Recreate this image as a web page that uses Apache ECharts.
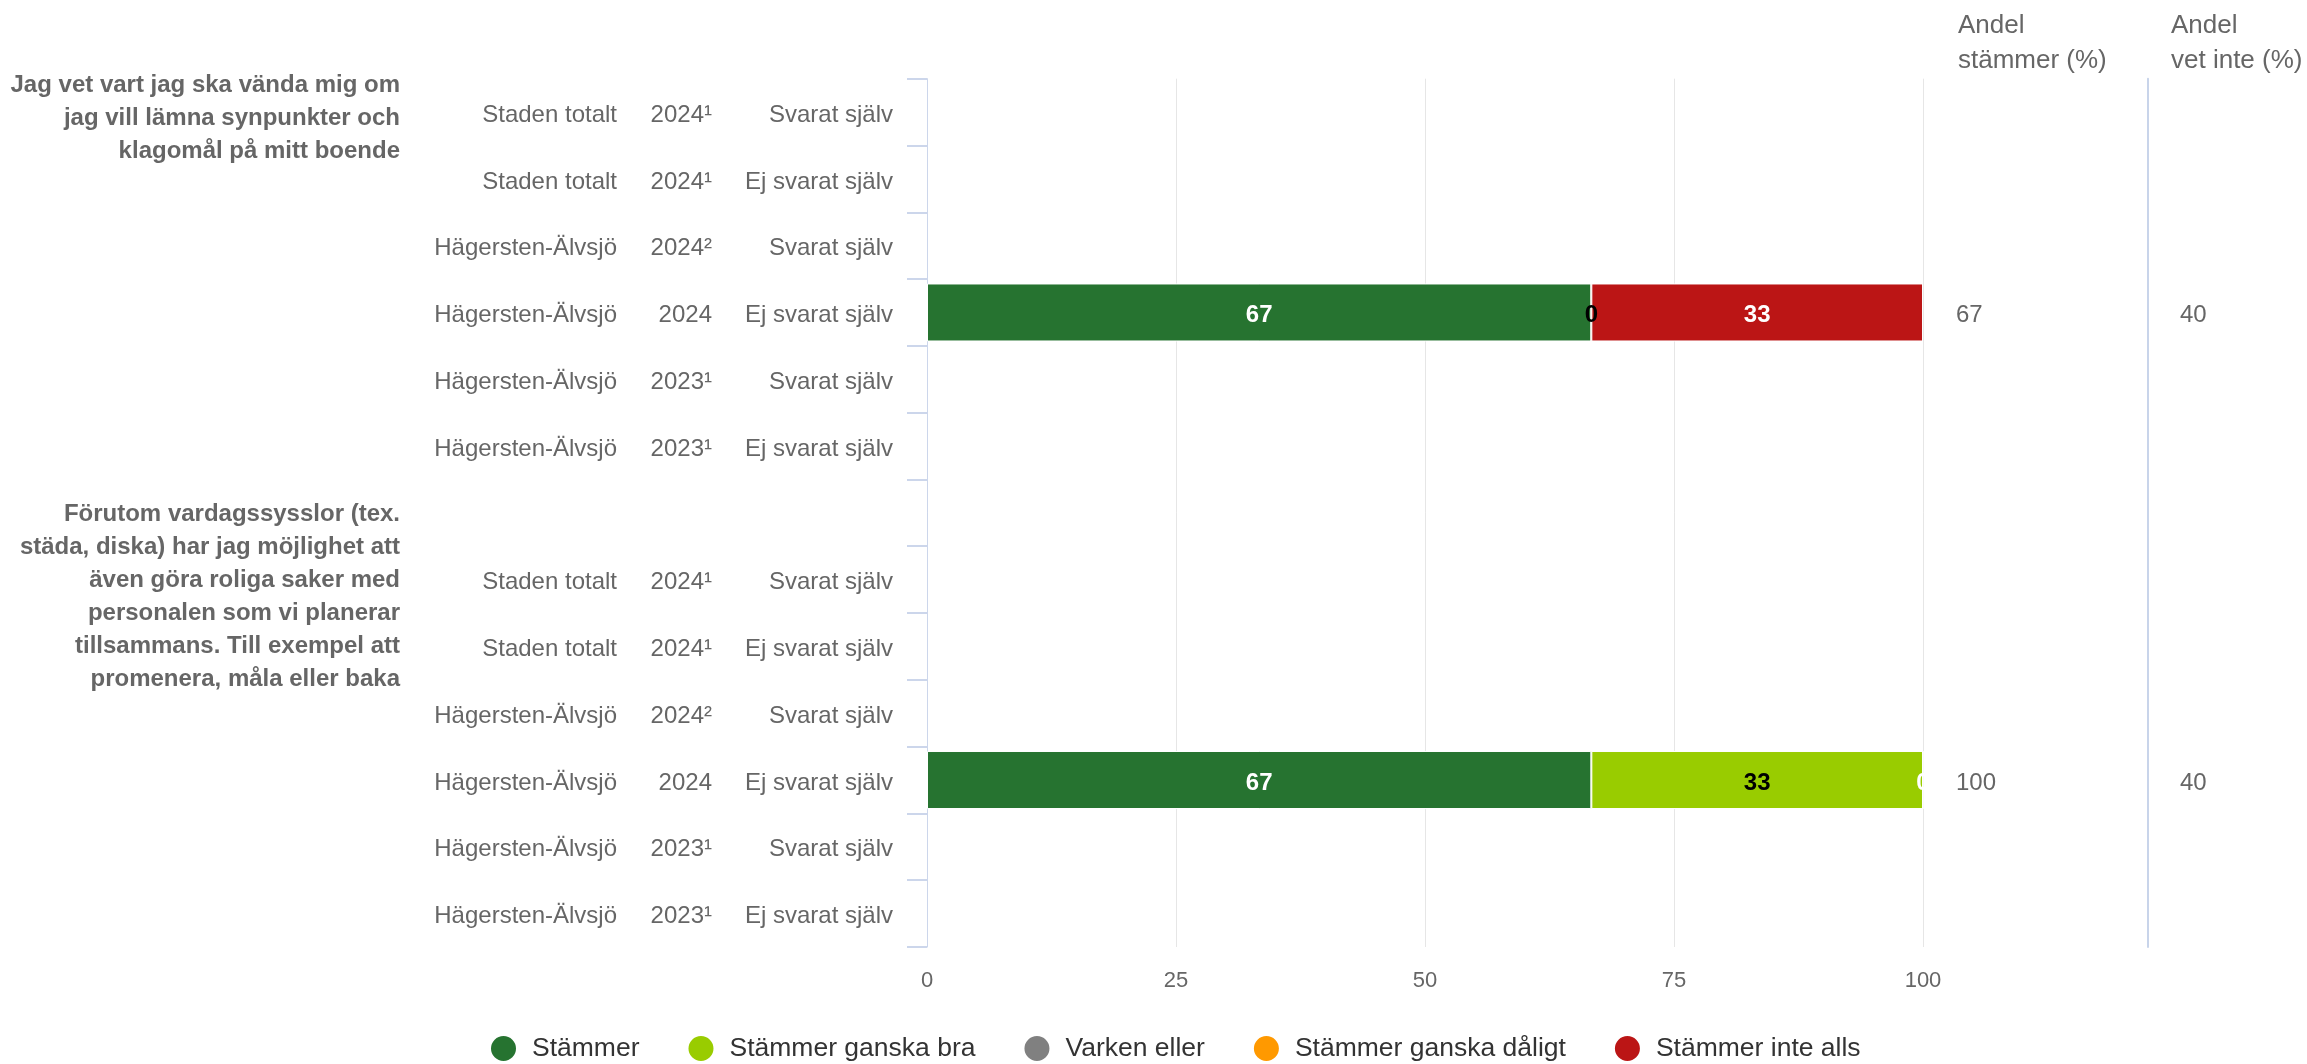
<!DOCTYPE html>
<html><head><meta charset="utf-8">
<script src="https://cdn.jsdelivr.net/npm/echarts@6/dist/echarts.min.js"></script>
<style>html,body{margin:0;padding:0;background:#fff}#c{width:2307px;height:1064px}</style>
</head><body><div id="c"></div>
<script>
// ---- data ----
const regions = ['Staden totalt','Staden totalt','Hägersten-Älvsjö','Hägersten-Älvsjö','Hägersten-Älvsjö','Hägersten-Älvsjö','',
                 'Staden totalt','Staden totalt','Hägersten-Älvsjö','Hägersten-Älvsjö','Hägersten-Älvsjö','Hägersten-Älvsjö'];
const years = ['2024¹','2024¹','2024²','2024','2023¹','2023¹','',
               '2024¹','2024¹','2024²','2024','2023¹','2023¹'];
const respondents = ['Svarat själv','Ej svarat själv','Svarat själv','Ej svarat själv','Svarat själv','Ej svarat själv','',
                     'Svarat själv','Ej svarat själv','Svarat själv','Ej svarat själv','Svarat själv','Ej svarat själv'];
const seriesNames = ['Stämmer','Stämmer ganska bra','Varken eller','Stämmer ganska dåligt','Stämmer inte alls'];
const stammer       = [null,null,null,66.7,null,null,null, null,null,null,66.7,null,null];
const ganskaBra     = [null,null,null,0,null,null,null,    null,null,null,33.3,null,null];
const varkenEller   = [null,null,null,null,null,null,null, null,null,null,null,null,null];
const ganskaDaligt  = [null,null,null,null,null,null,null, null,null,null,null,null,null];
const inteAlls      = [null,null,null,33.3,null,null,null, null,null,null,0,null,null];
const andelStammer  = ['','','','67','','','', '','','','100','',''];
const andelVetInte  = ['','','','40','','','', '','','','40','',''];
const groupLabels = [
  'Jag vet vart jag ska vända mig om\njag vill lämna synpunkter och\nklagomål på mitt boende',
  'Förutom vardagssysslor (tex.\nstäda, diska) har jag möjlighet att\näven göra roliga saker med\npersonalen som vi planerar\ntillsammans. Till exempel att\npromenera, måla eller baka'
];
const xTicks = [0, 25, 50, 75, 100];

// ---- styling ----
const FONT = '"Liberation Sans", Arial, Helvetica, sans-serif';
const colors = ['#267330', '#99cc00', '#808080', '#ff9900', '#bb1515'];
const labelColors = ['#ffffff', '#000000', '#ffffff', '#000000', '#ffffff'];
const cats = regions.map((_, i) => 'r' + i);
const seriesData = [stammer, ganskaBra, varkenEller, ganskaDaligt, inteAlls];
const valRich = {v: {fontSize: 24, color: '#666666', fontFamily: FONT, padding: [6, 0, 0, 0]}};

const chart = echarts.init(document.getElementById('c'), null, {renderer: 'canvas'});
const option = {
  animation: false,
  textStyle: {fontFamily: FONT},
  color: colors,
  grid: {left: 927, right: 384, top: 78.7, bottom: 117, containLabel: false},
  legend: {
    data: seriesNames,
    left: 484, top: 1029,
    icon: 'circle', itemWidth: 27, itemHeight: 27, itemGap: 47,
    textStyle: {fontSize: 26.5, color: '#333333', fontFamily: FONT, padding: [0, 0, 0, 10]}
  },
  xAxis: {
    type: 'value', min: 0, max: 100, interval: 25,
    axisLine: {show: false}, axisTick: {show: false},
    splitLine: {show: true, lineStyle: {color: '#e6e6e6', width: 1}},
    axisLabel: {fontSize: 22, color: '#666666', margin: 23, fontFamily: FONT,
      formatter: v => xTicks.includes(v) ? String(v) : ''}
  },
  yAxis: [
    {
      type: 'category', data: cats, inverse: true,
      axisLine: {show: true, lineStyle: {color: '#ccd6eb', width: 1}},
      axisTick: {show: true, length: 20, lineStyle: {color: '#ccd6eb', width: 2}},
      splitLine: {show: false},
      axisLabel: {
        margin: 34, align: 'right', fontSize: 24, color: '#666666', fontFamily: FONT,
        padding: [6, 0, 0, 0],
        formatter: (v, i) => '{r|' + regions[i] + '}{y|' + years[i] + '}{s|' + respondents[i] + '}',
        rich: {
          r: {width: 300, align: 'right', fontSize: 24, color: '#666666', fontFamily: FONT},
          y: {width: 95, align: 'right', fontSize: 24, color: '#666666', fontFamily: FONT},
          s: {width: 181, align: 'right', fontSize: 24, color: '#666666', fontFamily: FONT}
        }
      }
    },
    {
      type: 'category', data: cats, inverse: true, position: 'right', offset: 0,
      axisLine: {show: false}, axisTick: {show: false}, splitLine: {show: false},
      axisLabel: {margin: 33, align: 'left', fontSize: 24, color: '#666666', fontFamily: FONT,
        formatter: (v, i) => andelStammer[i] ? '{v|' + andelStammer[i] + '}' : '', rich: valRich}
    },
    {
      type: 'category', data: cats, inverse: true, position: 'right', offset: 225,
      axisLine: {show: true, lineStyle: {color: '#c8d4ea', width: 2}},
      axisTick: {show: false}, splitLine: {show: false},
      axisLabel: {margin: 32, align: 'left', fontSize: 24, color: '#666666', fontFamily: FONT,
        formatter: (v, i) => andelVetInte[i] ? '{v|' + andelVetInte[i] + '}' : '', rich: valRich}
    }
  ],
  series: seriesNames.map((name, k) => ({
    name: name, type: 'bar', stack: 'total', yAxisIndex: 0,
    barWidth: 58,
    data: seriesData[k],
    itemStyle: {color: colors[k], borderColor: '#ffffff', borderWidth: 1},
    label: {
      show: true, position: 'inside', offset: [0, 3], fontSize: 24, fontWeight: 'bold',
      color: labelColors[k], fontFamily: FONT,
      formatter: p => (p.value === null || p.value === undefined) ? '' : String(Math.round(p.value))
    }
  }))
};
chart.setOption(option);

// group labels + column headers (text only; positions derived from the category scale)
const bandTop = idx => {
  const c = chart.convertToPixel({yAxisIndex: 0}, cats[idx]);
  const bw = chart.getModel().getComponent('yAxis', 0).axis.getBandWidth();
  return c - bw / 2;
};
const g1Top = bandTop(0) - 10;
const g2Top = bandTop(6) + 18;
chart.setOption({
  graphic: [
    {type: 'text', x: 400, y: g1Top, style: {text: groupLabels[0], align: 'right', verticalAlign: 'top',
      font: 'bold 24px ' + FONT, fill: '#666666', lineHeight: 33}},
    {type: 'text', x: 400, y: g2Top, style: {text: groupLabels[1], align: 'right', verticalAlign: 'top',
      font: 'bold 24px ' + FONT, fill: '#666666', lineHeight: 33}},
    {type: 'text', x: 1958, y: 8, style: {text: 'Andel\nstämmer (%)', align: 'left', verticalAlign: 'top',
      font: '26px ' + FONT, fill: '#666666', lineHeight: 35}},
    {type: 'text', x: 2171, y: 8, style: {text: 'Andel\nvet inte (%)', align: 'left', verticalAlign: 'top',
      font: '26px ' + FONT, fill: '#666666', lineHeight: 35}}
  ]
});
</script>
</body></html>
